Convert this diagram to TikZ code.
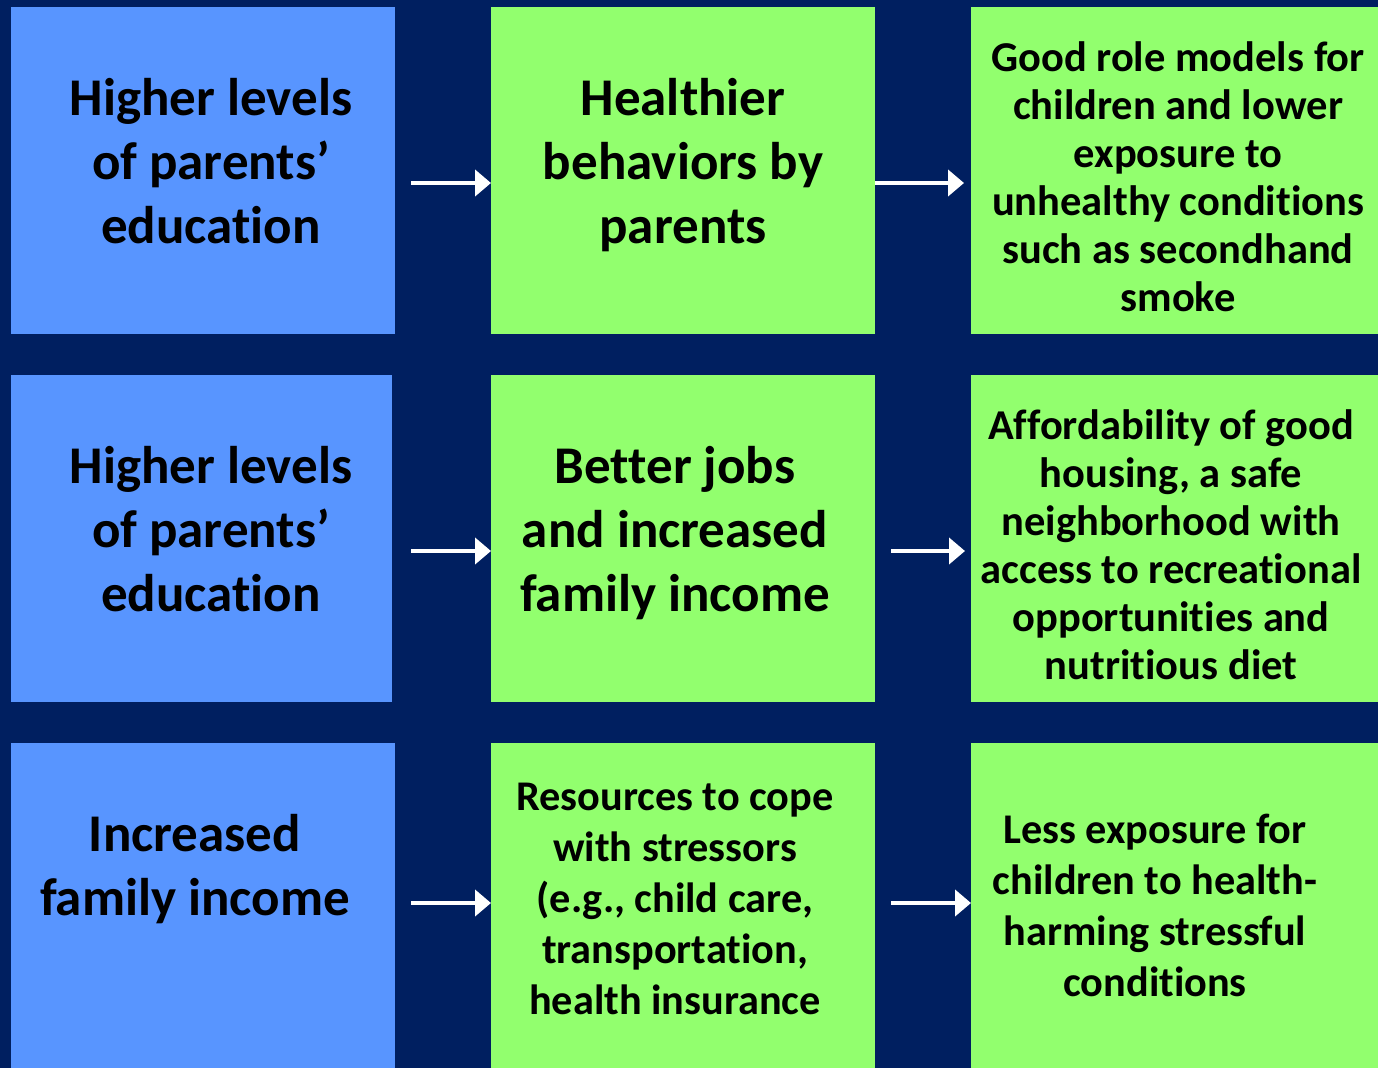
\documentclass[tikz,border=0pt]{standalone}
\usepackage{fontspec}
\setmainfont{Carlito}[RawFeature={-liga}]
\usetikzlibrary{arrows.meta}
\definecolor{navy}{RGB}{0,31,96}
\definecolor{bluebox}{RGB}{88,149,255}
\definecolor{greenbox}{RGB}{146,255,110}
\tikzset{
  box/.style={rectangle, inner sep=0pt, anchor=north west, draw=none},
  lbox/.style={box, fill=bluebox},
  gbox/.style={box, fill=greenbox},
  big/.style={align=center, text=black, font=\bfseries\fontsize{53}{64}\selectfont},
  mid/.style={align=center, text=black, font=\bfseries\fontsize{42.3}{51}\selectfont},
  small/.style={align=center, text=black, font=\bfseries\fontsize{42.5}{48}\selectfont},
  arr/.style={draw=white, line width=4.5pt, -{Triangle[length=16pt,width=26pt]}}
}
\begin{document}
\begin{tikzpicture}[x=1pt,y=-1pt]
\fill[navy] (0,0) rectangle (1378,1068);
\useasboundingbox (0,0) rectangle (1378,1068);
% row 1
\node[lbox, minimum width=384pt, minimum height=327pt] (L1) at (11,7) {};
\node[gbox, minimum width=384pt, minimum height=327pt] (M1) at (491,7) {};
\node[gbox, minimum width=407pt, minimum height=327pt] (R1) at (971,7) {};
% row 2
\node[lbox, minimum width=381pt, minimum height=327pt] (L2) at (11,375) {};
\node[gbox, minimum width=384pt, minimum height=327pt] (M2) at (491,375) {};
\node[gbox, minimum width=407pt, minimum height=327pt] (R2) at (971,375) {};
% row 3
\node[lbox, minimum width=384pt, minimum height=325pt] (L3) at (11,743) {};
\node[gbox, minimum width=384pt, minimum height=325pt] (M3) at (491,743) {};
\node[gbox, minimum width=407pt, minimum height=325pt] (R3) at (971,743) {};
% texts
\node[big] (L1t) at (211,161) {Higher levels\\of parents’\\education};
\node[big] (M1t) at (683,165) {Healthier\\behaviors by\\parents};
\node[small] (R1t) at (1178,177) {Good role models for\\children and lower\\exposure to\\unhealthy conditions\\such as secondhand\\smoke};
\node[big] (L2t) at (211,529) {Higher levels\\of parents’\\education};
\node[big] (M2t) at (675,533) {Better jobs\\and increased\\family income};
\node[small] (R2t) at (1171,545) {Affordability of good\\housing, a safe\\neighborhood with\\access to recreational\\opportunities and\\nutritious diet};
\node[big] (L3t) at (195,869) {Increased\\family income};
\node[mid] (M3t) at (675,899) {Resources to cope\\with stressors\\(e.g., child care,\\transportation,\\health insurance};
\node[mid] (R3t) at (1155,905) {Less exposure for\\children to health-\\harming stressful\\conditions};
% arrow start points
\coordinate (a1) at (411,183);
\coordinate (b1) at (875,183);
\coordinate (a2) at (411,551);
\coordinate (b2) at (891,551);
\coordinate (a3) at (411,903);
\coordinate (b3) at (891,903);
\draw[arr] (a1) -- (M1.west |- a1);
\draw[arr, shorten >=7pt] (b1) -- (R1.west |- b1);
\draw[arr] (a2) -- (M2.west |- a2);
\draw[arr, shorten >=6pt] (b2) -- (R2.west |- b2);
\draw[arr] (a3) -- (M3.west |- a3);
\draw[arr] (b3) -- (R3.west |- b3);
\end{tikzpicture}
\end{document}
